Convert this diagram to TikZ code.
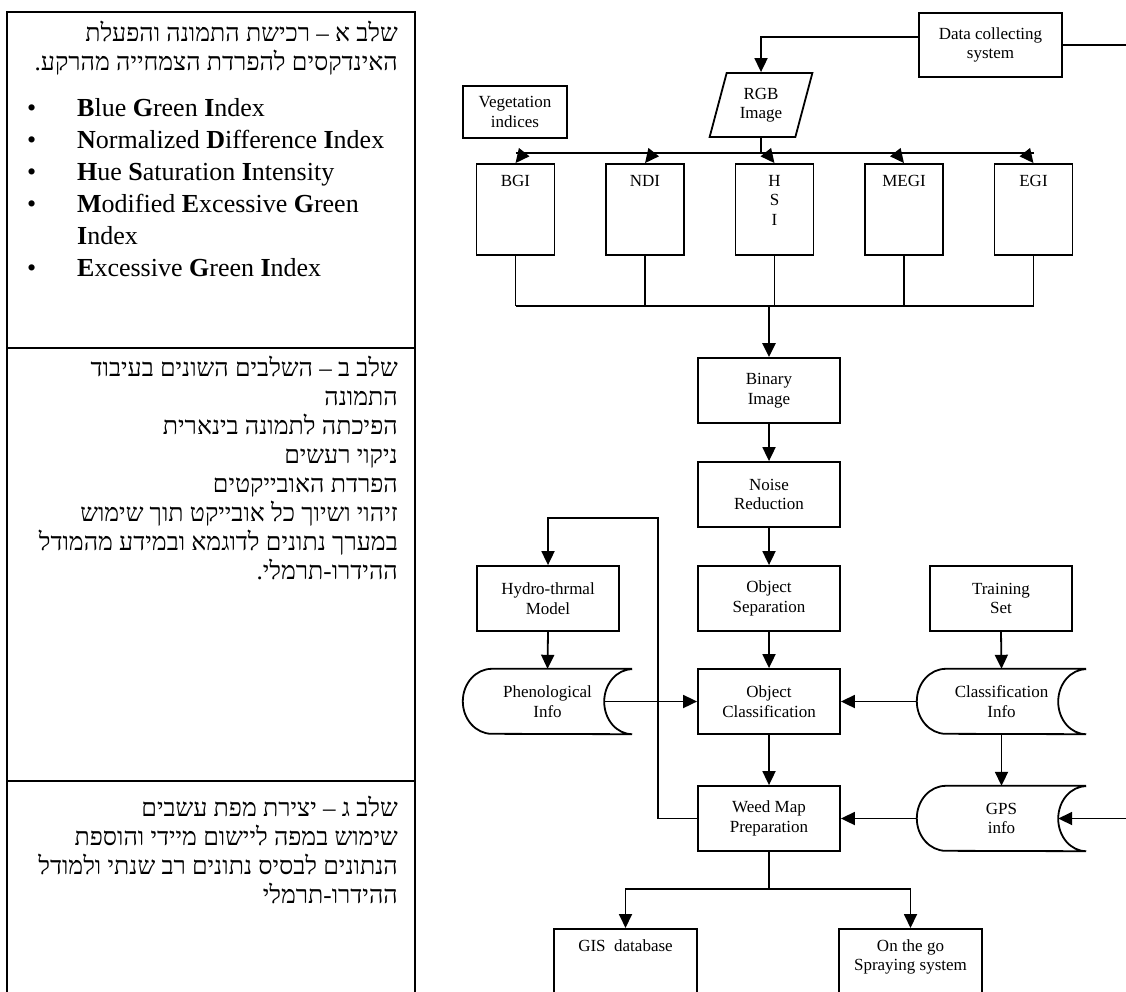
\documentclass[tikz,border=0pt]{standalone}
\usepackage{fontspec}
\setmainfont{Liberation Serif}
\newfontfamily\hebfont[Script=Hebrew]{Liberation Serif}
\TeXXeTstate=1
\usetikzlibrary{shapes.geometric,arrows.meta}

\newcommand\boxfont{\fontsize{17}{19.5}\selectfont}
\newcommand\hebsize{\hebfont\fontsize{25}{29}\selectfont\lineskiplimit=-\maxdimen}
\newcommand\bulsize{\fontsize{26}{32}\selectfont}
\newcommand\bl{\makebox[50pt][l]{•}}
\newcommand\blank{\hspace*{50pt}}

\begin{document}
\begin{tikzpicture}[x=1pt, y=-1pt,
  box/.style={draw, line width=1.8pt, minimum width=142pt, minimum height=65pt, align=center, inner sep=0pt, font=\boxfont},
  ibox/.style={draw, line width=1.8pt, minimum width=78pt, minimum height=91pt, inner sep=0pt},
  rgbbox/.style={draw, line width=1.8pt, trapezium, trapezium left angle=73, trapezium right angle=107, trapezium stretches=true, minimum width=103pt, minimum height=64pt, inner sep=0pt, align=center, font=\boxfont},
  store/.style={minimum width=169pt, minimum height=65pt, align=center, inner sep=0pt, font=\boxfont},
  lbl/.style={inner sep=0pt, align=center, font=\boxfont},
  heb/.style={inner sep=0pt, align=right, font=\hebsize},
  bul/.style={inner sep=0pt, align=left, font=\bulsize},
  conn/.style={line width=1.8pt},
  wire/.style={line width=1.4pt},
  busline/.style={line width=2.7pt},
  arr/.style={line width=1.8pt, -{Triangle[length=14pt, width=13pt]}}]

\useasboundingbox (0,0) rectangle (1126,991);
\fill[white] (0,0) rectangle (1126,991);
\clip (0,0) rectangle (1126,991);

\draw[conn] (7,1000) -- (7,12) -- (415,12) -- (415,1000);
\draw[conn] (7,348) -- (415,348);
\draw[conn] (7,781) -- (415,781);

\node[heb, anchor=north east] (s1) at (398,21) {\beginR שלב א – רכישת התמונה והפעלת\endR\\
\beginR האינדקסים להפרדת הצמחייה מהרקע.\endR};
\node[bul, anchor=north west] (s1b) at (27,98) {\bl\textbf{B}lue \textbf{G}reen \textbf{I}ndex\\
\bl\textbf{N}ormalized \textbf{D}ifference \textbf{I}ndex\\
\bl\textbf{H}ue \textbf{S}aturation \textbf{I}ntensity\\
\bl\textbf{M}odified \textbf{E}xcessive \textbf{G}reen\\
\blank\textbf{I}ndex\\
\bl\textbf{E}xcessive \textbf{G}reen \textbf{I}ndex};
\node[heb, anchor=north east] (s2) at (398,356) {\beginR שלב ב – השלבים השונים בעיבוד\endR\\
\beginR התמונה\endR\\
\beginR הפיכתה לתמונה בינארית\endR\\
\beginR ניקוי רעשים\endR\\
\beginR הפרדת האובייקטים\endR\\
\beginR זיהוי ושיוך כל אובייקט תוך שימוש\endR\\
\beginR במערך נתונים לדוגמא ובמידע מהמודל\endR\\
\beginR ההידרו-תרמלי.\endR};
\node[heb, anchor=north east] (s3) at (398,796) {\beginR שלב ג – יצירת מפת עשבים\endR\\
\beginR שימוש במפה ליישום מיידי והוספת\endR\\
\beginR הנתונים לבסיס נתונים רב שנתי ולמודל\endR\\
\beginR ההידרו-תרמלי\endR};

\node[box, minimum width=143pt, minimum height=64pt] (data) at (990.5,45) {Data collecting\\system};
\node[rgbbox] (rgb) at (761,105) {RGB\\Image};
\node[box, minimum width=104pt, minimum height=52pt] (veg) at (515,112) {Vegetation\\indices};

\foreach \n/\x/\t in {bgi/515.5/BGI, ndi/645/NDI, hsi/774.5/{H\\S\\I}, megi/904/MEGI, egi/1033.5/EGI} {
  \node[ibox] (\n) at (\x,209.5) {};
  \node[lbl, anchor=north] (\n-t) at ([yshift=-12pt]\n.north) {\t};
}

\node[box] (bin) at (769,390.5) {Binary\\Image};
\node[box] (noise) at (769,494.5) {Noise\\Reduction};
\node[box] (sep) at (769,598.5) {Object\\Separation};
\node[box] (cls) at (769,701.5) {Object\\Classification};
\node[box] (weed) at (769,818.5) {Weed Map\\Preparation};
\node[box] (hydro) at (548,598.5) {Hydro-thrmal\\Model};
\node[box] (train) at (1001,598.5) {Training\\Set};
\node[store] (phen) at (547.5,701.5) {Phenological\\Info};
\node[store] (cinfo) at (1001.5,701.5) {Classification\\Info};
\node[store] (gps) at (1001.5,818.5) {GPS\\info};
\foreach \n in {phen,cinfo,gps}
  \draw[conn] (\n.north east) -- ([xshift=29pt]\n.north west) arc[start angle=90, end angle=270, x radius=29pt, y radius=32.5pt] -- (\n.south east) arc[start angle=270, end angle=90, x radius=28pt, y radius=32.5pt];

\node[ibox, minimum width=143pt, minimum height=100pt, anchor=north] (gis) at (625.5,928) {};
\node[lbl, anchor=north] (gis-t) at ([yshift=-11pt]gis.north) {GIS~~database};
\node[ibox, minimum width=143pt, minimum height=100pt, anchor=north] (otg) at (910.5,928) {};
\node[lbl, anchor=north] (otg-t) at ([yshift=-11pt]otg.north) {On the go\\Spraying system};

\coordinate (edge) at (1140,0);
\coordinate (bus) at (0,153);
\coordinate (sub) at (0,306);
\coordinate (fb) at (658,518);
\coordinate (split) at (0,889);

\draw[arr] ([yshift=8pt]data.west) -| (rgb.north);
\draw[conn] (data.east) -- (data.east -| edge);
\draw[conn] (rgb.south) -- (rgb.south |- bus);
\draw[busline] (bgi.north |- bus) -- (egi.north |- bus);
\foreach \n/\s in {bgi/8pt,ndi/8pt,hsi/-8pt,megi/-8pt,egi/-8pt}
  \draw[arr] ([xshift=\s]\n.north |- bus) -- (\n.north);
\foreach \n in {bgi,ndi,hsi,megi,egi}
  \draw[wire] (\n.south) -- (\n.south |- sub);
\draw[wire] (bgi.south |- sub) -- (egi.south |- sub);
\draw[arr, line width=2.5pt] (bin.north |- sub) -- (bin.north);
\draw[arr] (bin) -- (noise);
\draw[arr] (noise) -- (sep);
\draw[arr] (sep) -- (cls);
\draw[arr] (cls) -- (weed);
\draw[arr] (hydro.south) -- (phen.north);
\draw[arr] (train.south) -- (cinfo.north);
\draw[arr] (cinfo.south) -- (gps.north);
\draw[arr] ([xshift=-28pt]phen.east) -- (cls.west);
\draw[arr] (cinfo.west) -- (cls.east);
\draw[arr] (gps.west) -- (weed.east);
\draw[arr] (gps.east -| edge) -- ([xshift=-28pt]gps.east);
\draw[arr] (weed.west) -| (fb) -| (hydro.north);
\draw[conn] (weed.south) -- (weed.south |- split);
\draw[arr] (weed.south |- split) -| (gis.north);
\draw[arr] (weed.south |- split) -| (otg.north);
\end{tikzpicture}
\end{document}
